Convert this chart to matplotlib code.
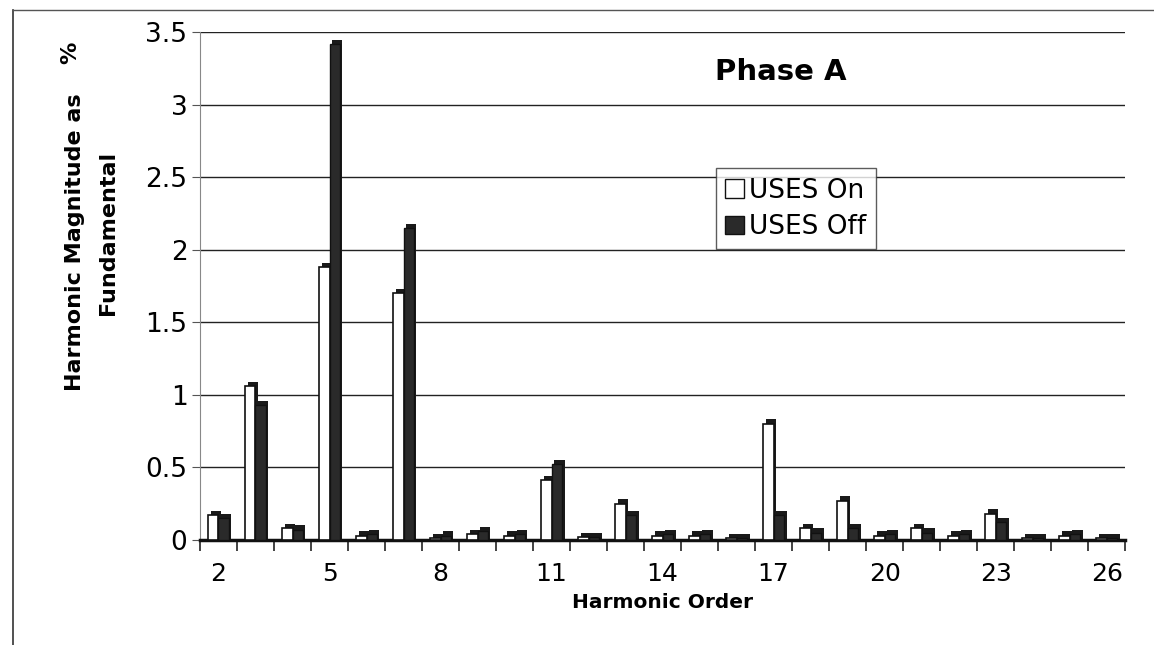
import numpy as np
import matplotlib
matplotlib.use("Agg")
import matplotlib.pyplot as plt
from matplotlib.lines import Line2D
from matplotlib.patches import Patch

plt.rcParams['font.family'] = ['DejaVu Sans']

# harmonic orders and magnitudes (% of fundamental)
orders = list(range(2, 27))
uses_on = [0.17, 1.06, 0.08, 1.88, 0.03, 1.70, 0.01, 0.04, 0.03, 0.41, 0.02, 0.25,
           0.03, 0.03, 0.01, 0.80, 0.08, 0.27, 0.03, 0.08, 0.03, 0.18, 0.01, 0.03, 0.01]
uses_off = [0.15, 0.93, 0.07, 3.42, 0.04, 2.15, 0.03, 0.06, 0.04, 0.52, 0.02, 0.17,
            0.04, 0.04, 0.01, 0.17, 0.05, 0.08, 0.04, 0.05, 0.04, 0.12, 0.01, 0.04, 0.01]
tick_orders = [2, 5, 8, 11, 14, 17, 20, 23, 26]
yticks = [0, 0.5, 1, 1.5, 2, 2.5, 3, 3.5]

fig = plt.figure(figsize=(11.54, 6.45), dpi=100)
ax = fig.add_axes([0.1733, 0.163, 0.8017, 0.787])

x = np.arange(len(orders))
w = 0.28
# 3d-ish depth shadow behind each bar
dx, dy = 0.07, 0.03
ax.bar(x - 0.14 + dx, np.array(uses_on) + dy, w, bottom=0, color='#1a1a1a', zorder=2)
ax.bar(x + 0.14 + dx, np.array(uses_off) + dy, w, bottom=0, color='#1a1a1a', zorder=2)
ax.bar(x - 0.14, uses_on, w, color='white', edgecolor='#111111', linewidth=1.2, zorder=3)
ax.bar(x + 0.14, uses_off, w, color='#2a2a2a', edgecolor='#111111', linewidth=1.0, zorder=3)

ax.set_xlim(-0.5, len(orders) - 0.5)
ax.set_ylim(0, 3.5)
ax.set_yticks(yticks)
ax.set_yticklabels(['0', '0.5', '1', '1.5', '2', '2.5', '3', '3.5'], fontsize=19)
ax.yaxis.grid(True, color='#222222', linewidth=1.0)
ax.set_axisbelow(True)

ax.set_xticks([orders.index(t) for t in tick_orders])
ax.set_xticklabels([str(t) for t in tick_orders], fontsize=18)
ax.set_xticks(np.arange(len(orders) + 1) - 0.5, minor=True)
ax.tick_params(axis='x', which='major', length=0, pad=16)
ax.tick_params(axis='x', which='minor', length=8, width=1.2, color='#222222')
ax.tick_params(axis='y', length=6, color='#555555', pad=3)

for s in ['top', 'right']:
    ax.spines[s].set_visible(False)
ax.spines['left'].set_color('#888888')
ax.spines['bottom'].set_linewidth(2.5)
ax.spines['bottom'].set_color('#111111')

ax.set_xlabel('Harmonic Order', fontsize=14.5, fontweight='bold', labelpad=5)

ax.text(0.628, 0.921, 'Phase A', transform=ax.transAxes, fontsize=21,
        fontweight='bold', ha='center', va='center')

fig.text(0.065, 0.625, 'Harmonic Magnitude as', rotation=90, fontsize=16,
         fontweight='bold', ha='center', va='center')
fig.text(0.061, 0.918, '%', rotation=90, fontsize=16,
         fontweight='bold', ha='center', va='center')
fig.text(0.094, 0.639, 'Fundamental', rotation=90, fontsize=16,
         fontweight='bold', ha='center', va='center')

handles = [Patch(facecolor='white', edgecolor='#111111', label='USES On'),
           Patch(facecolor='#2a2a2a', edgecolor='#111111', label='USES Off')]
leg = ax.legend(handles=handles, loc='upper left', bbox_to_anchor=(0.558, 0.732),
                borderaxespad=0, fontsize=19, frameon=True, fancybox=False,
                handlelength=0.7, handleheight=0.7, handletextpad=0.2,
                borderpad=0.35, labelspacing=0.4)
leg.get_frame().set_edgecolor('#333333')
leg.get_frame().set_linewidth(1.0)

# outer chart frame (left and top edges visible in scan)
fig.add_artist(Line2D([0.011, 0.011], [0.0, 0.985], color='#333333', lw=1.2))
fig.add_artist(Line2D([0.011, 1.0], [0.985, 0.985], color='#555555', lw=1.0))

fig.savefig('out.png', dpi=100)
